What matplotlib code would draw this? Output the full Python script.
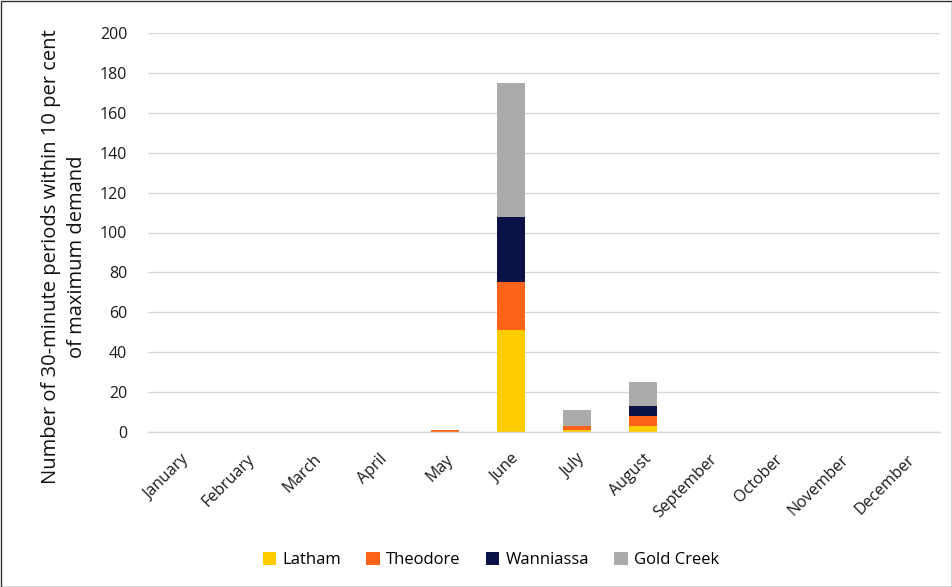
import numpy as np
import matplotlib.pyplot as plt
from matplotlib.patches import Rectangle

plt.rcParams['font.family'] = ['Open Sans', 'DejaVu Sans']

months = ['January', 'February', 'March', 'April', 'May', 'June',
          'July', 'August', 'September', 'October', 'November', 'December']
latham = [0, 0, 0, 0, 0, 51, 1, 3, 0, 0, 0, 0]
theodore = [0, 0, 0, 0, 1, 24, 2, 5, 0, 0, 0, 0]
wanniassa = [0, 0, 0, 0, 0, 33, 0, 5, 0, 0, 0, 0]
gold_creek = [0, 0, 0, 0, 0, 67, 8, 12, 0, 0, 0, 0]

series = [('Latham', latham, '#FFCC00'),
          ('Theodore', theodore, '#FF6319'),
          ('Wanniassa', wanniassa, '#0B1248'),
          ('Gold Creek', gold_creek, '#ADAAAA')]

fig = plt.figure(figsize=(9.52, 5.87), dpi=100)
ax = fig.add_axes([148/952, 1-432/587, 792/952, 399/587])

x = np.arange(len(months))
bottom = np.zeros(len(months))
for name, vals, col in series:
    vals = np.array(vals, dtype=float)
    ax.bar(x, vals, 0.41, bottom=bottom, color=col, label=name, zorder=3)
    bottom += vals

ax.set_xlim(-0.5, 11.5)
ax.set_ylim(0, 200)
ax.set_yticks(range(0, 201, 20))
ax.set_xticks(x)
ax.set_xticklabels(months, rotation=45, ha='right', rotation_mode='anchor',
                   fontsize=11.5, color='#1a1a1a')
ax.tick_params(axis='y', labelsize=11.5, colors='#1a1a1a', length=0, pad=15)
ax.tick_params(axis='x', length=0, pad=14)
ax.grid(axis='y', color='#D9D9D9', linewidth=1, zorder=0)
for s in ['top', 'right', 'left']:
    ax.spines[s].set_visible(False)
ax.spines['bottom'].set_color('#D9D9D9')
ax.spines['bottom'].set_linewidth(1)
ax.spines['bottom'].set_zorder(4)

ax.set_ylabel('Number of 30-minute periods within 10 per cent\nof maximum demand',
              fontsize=14.5, color='#111111', linespacing=1.4)
ax.yaxis.set_label_coords(-0.077, 0.44)

ax.legend(loc='center', bbox_to_anchor=(491/952, 1-560/587), bbox_transform=fig.transFigure,
          ncol=4, frameon=False, fontsize=12, handlelength=0.8, handleheight=0.8,
          columnspacing=1.5, handletextpad=0.4)

fig.patches.append(Rectangle((0.5/952, 0.5/587), 1-1/952, 1-1/587, transform=fig.transFigure,
                             fill=False, edgecolor='#333333', linewidth=1))

fig.savefig('out.png', dpi=100)
